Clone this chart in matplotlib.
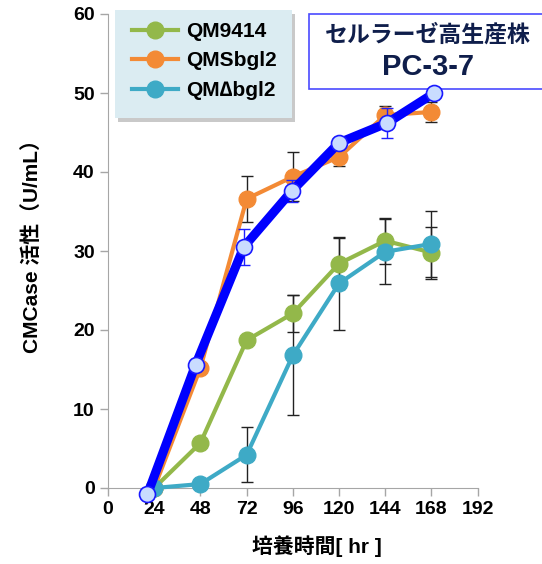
import matplotlib
matplotlib.use("Agg")
import matplotlib.pyplot as plt
from matplotlib.patches import Rectangle

plt.rcParams['font.family'] = ['Liberation Sans', 'Noto Sans CJK JP', 'DejaVu Sans']

# data
hours = [24, 48, 72, 96, 120, 144, 168]
qm9414 = [0.0, 5.7, 18.7, 22.1, 28.4, 31.3, 29.8]
qm9414_err = [0, 0, 0, 2.3, 3.2, 2.9, 3.3]
qmsbgl2 = [0.0, 15.2, 36.6, 39.4, 41.9, 47.2, 47.6]
qmsbgl2_err = [0, 0, 2.9, 3.1, 1.2, 1.2, 1.3]
qmdbgl2 = [0.0, 0.5, 4.2, 16.8, 25.9, 29.9, 30.9]
qmdbgl2_err = [0, 0, 3.5, 7.6, 5.9, 4.1, 4.2]
# PC-3-7 overlay (points sit a little off the tick marks in the original)
pc_hours = [20.5, 45.5, 70.5, 95.5, 120, 145, 169.5]
pc37 = [-0.8, 15.6, 30.5, 37.6, 43.7, 46.2, 50.0]
pc37_err = [0, 0, 2.3, 1.4, 0, 1.9, 0]

labels = ['QM9414', 'QMSbgl2', 'QM\u2206bgl2']
colors = ['#93b84a', '#f38a35', '#3eaac6']

fig = plt.figure(figsize=(5.42, 5.64), dpi=100)
ax = fig.add_axes([108/542, 76/564, 369.7/542, 474/564])

series = [(qm9414, qm9414_err), (qmsbgl2, qmsbgl2_err), (qmdbgl2, qmdbgl2_err)]
handles = []
for (vals, err), c, lab in zip(series, colors, labels):
    h, = ax.plot(hours, vals, '-o', color=c, lw=3, ms=12, mec=c, label=lab,
                 zorder=3, clip_on=False)
    handles.append(h)
    ax.errorbar(hours, vals, yerr=err, fmt='none', ecolor='#222222', elinewidth=1,
                capsize=4, capthick=1, zorder=2)

ax.plot(pc_hours, pc37, '-o', color='#0000ff', lw=6.5, ms=11.5, mfc='#c9dcff',
        mec='#1a1aff', mew=1.2, zorder=5, clip_on=False)
ax.errorbar(pc_hours, pc37, yerr=pc37_err, fmt='none', ecolor='#2020ff',
            elinewidth=1, capsize=4, capthick=1, zorder=4)

ax.set_xlim(0, 192)
ax.set_ylim(0, 60)
ax.set_xticks(range(0, 193, 24))
ax.set_yticks(range(0, 61, 10))
for s in ['top', 'right']:
    ax.spines[s].set_visible(False)
for s in ['left', 'bottom']:
    ax.spines[s].set_color('#a6a6a6')
ax.tick_params(colors='#a6a6a6', length=6, width=1, labelcolor='black',
               labelsize=14)
for t in ax.get_xticklabels() + ax.get_yticklabels():
    t.set_fontweight('bold')

ax.set_xlabel('培養時間[ hr ]', fontsize=15, fontweight='bold')
ax.xaxis.set_label_coords(0.565, -0.099)
ax.set_ylabel('CMCase 活性（U/mL）', fontsize=15, fontweight='bold')
ax.yaxis.set_label_coords(-0.18, 0.52)

# legend box with soft shadow
ax.add_patch(Rectangle((118/542, 1 - 122/564), 177/542, 108/564,
                       transform=fig.transFigure, fc='#888888', ec='none',
                       alpha=0.45, zorder=7, clip_on=False))
ax.add_patch(Rectangle((115/542, 1 - 118/564), 177/542, 108/564,
                       transform=fig.transFigure, fc='#dbecf2', ec='none',
                       zorder=8, clip_on=False))
leg = ax.legend(handles=handles, loc='upper left',
                bbox_to_anchor=(132/542, 1 - 22/564), bbox_transform=fig.transFigure,
                borderaxespad=0, borderpad=0, frameon=False,
                prop={'size': 15, 'weight': 'bold'},
                handlelength=2.2, handletextpad=0.38, labelspacing=0.5)
leg.set_zorder(10)

# title box (kept under the data so the last marker sits on its border)
ax.add_patch(Rectangle((309/542, 1 - 89/564), 240/542, 75/564,
                       transform=fig.transFigure, fc='white',
                       ec='#4a4aff', lw=1.2, zorder=1, clip_on=False))
fig.text(428/542, 1 - 35/564, 'セルラーゼ高生産株', ha='center', va='center',
         fontsize=16.5, fontweight='bold', color='#0f1e4b',
         family=['Noto Sans CJK JP'])
fig.text(428/542, 1 - 67/564, 'PC-3-7', ha='center', va='center',
         fontsize=21, fontweight='bold', color='#0f1e4b')

fig.savefig('out.png', dpi=100)
